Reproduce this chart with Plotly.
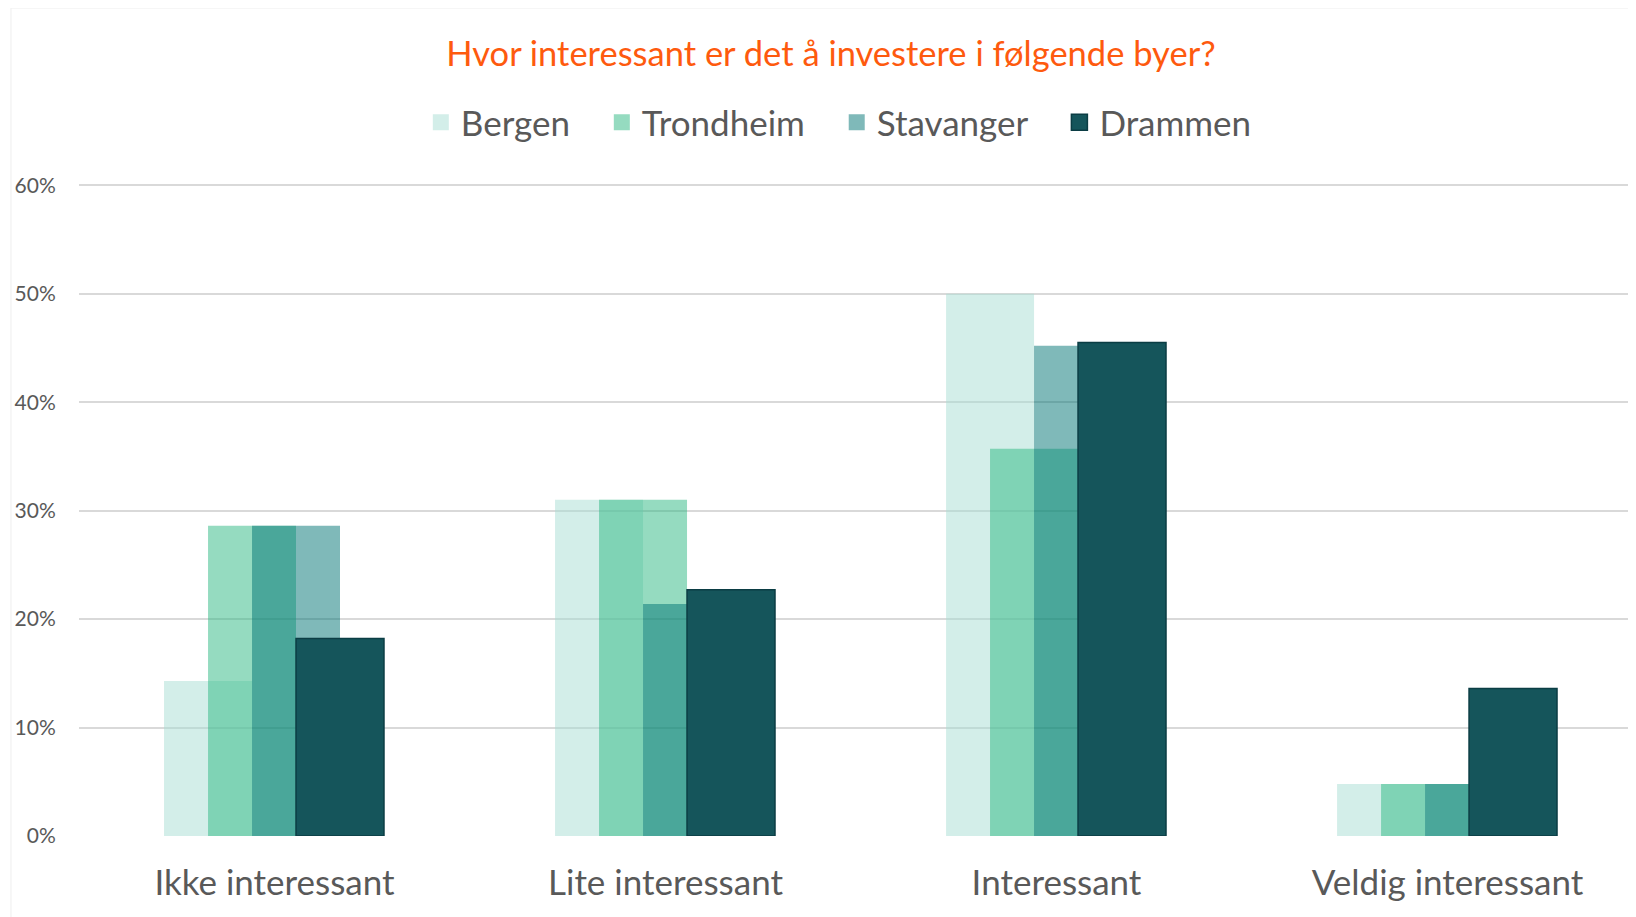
import plotly.graph_objects as go

categories = ["Ikke interessant", "Lite interessant", "Interessant", "Veldig interessant"]
cities = ["Bergen", "Trondheim", "Stavanger", "Drammen"]

bergen = [0.143, 0.310, 0.500, 0.048]
trondheim = [0.286, 0.310, 0.357, 0.048]
stavanger = [0.286, 0.214, 0.452, 0.048]
drammen = [0.182, 0.227, 0.455, 0.136]

values = [bergen, trondheim, stavanger, drammen]

# semi-transparent fills so the overlapping bars mix like in the Excel original
fills = ["rgba(167,221,211,0.5)", "rgba(43,183,129,0.5)", "rgba(0,115,115,0.5)", "#15555b"]
lines = ["rgba(0,0,0,0)", "rgba(0,0,0,0)", "rgba(0,0,0,0)", "#0b3d44"]
offsets = [-0.2825, -0.17, -0.0575, 0.055]
bar_width = 0.225

grey = "#595959"
font_name = "Lato"

fig = go.Figure()

for name, vals, fill, line, off in zip(cities, values, fills, lines, offsets):
    fig.add_trace(go.Bar(
        x=categories, y=vals, name=name,
        marker=dict(color=fill, line=dict(color=line, width=1.5)),
        width=bar_width, offset=off,
        showlegend=False, hoverinfo="x+y+name",
    ))

# legend proxies (bigger squares than the bar legend symbol)
pad = "\u00a0" * 3
for i, (name, fill, line) in enumerate(zip(cities, fills, lines)):
    label = name + (pad if i < len(cities) - 1 else "")
    fig.add_trace(go.Scatter(
        x=[None], y=[None], mode="markers", name=label,
        marker=dict(symbol="square", size=16, color=fill, line=dict(color=line, width=1.5)),
    ))

# the page body has an 8px margin, so the figure is a bit smaller than the window
W, H = 1628, 909

fig.update_layout(
    width=W, height=H,
    barmode="overlay",
    paper_bgcolor="white", plot_bgcolor="white",
    margin=dict(l=71, r=0, t=174, b=81),
    font=dict(family=font_name, color=grey),
    title=dict(
        text="Hvor interessant er det å investere i følgende byer?",
        font=dict(family=font_name, size=34.5, color="#fe5a0e"),
        x=823 / W, xanchor="center", xref="container",
        y=1 - 46 / H, yanchor="middle", yref="container",
    ),
    legend=dict(
        orientation="h", x=0.488, xanchor="center",
        y=1.091, yanchor="middle",
        font=dict(family=font_name, size=35, color=grey),
        itemwidth=30, tracegroupgap=0,
    ),
    xaxis=dict(
        range=[-0.5, 3.482], automargin=False,
        showgrid=False, showline=False, zeroline=False,
        ticks="outside", ticklen=16, tickcolor="rgba(0,0,0,0)",
        tickfont=dict(family=font_name, size=35, color=grey),
    ),
    yaxis=dict(
        range=[0, 0.603], dtick=0.1, tickformat=".0%", automargin=False,
        showgrid=True, gridcolor="#d9d9d9", gridwidth=1.5,
        zeroline=False, showline=False,
        ticks="outside", ticklen=18, tickcolor="rgba(0,0,0,0)",
        tickfont=dict(family=font_name, size=21, color=grey),
    ),
    shapes=[dict(
        type="rect", xref="paper", yref="paper",
        x0=-0.0437, x1=1.05, y0=-0.2, y1=1.266,
        line=dict(color="#eeeeee", width=1), fillcolor="rgba(0,0,0,0)", layer="below",
    )],
)

fig.write_html("out.html")
